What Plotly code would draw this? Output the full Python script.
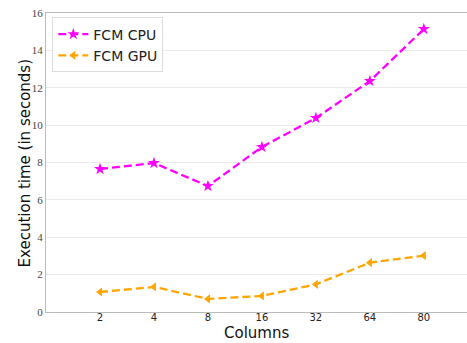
import plotly.graph_objects as go

columns = ["2", "4", "8", "16", "32", "64", "80"]
fcm_cpu = [7.65, 7.97, 6.74, 8.83, 10.38, 12.36, 15.14]
fcm_gpu = [1.07, 1.34, 0.70, 0.86, 1.48, 2.64, 3.02]

fig = go.Figure()
fig.add_trace(go.Scatter(
    x=columns, y=fcm_cpu, name="FCM CPU", mode="lines+markers",
    line=dict(color="#ff00ff", width=2.3, dash="8px,4px"),
    marker=dict(symbol="star", size=9, color="#ff00ff"),
))
fig.add_trace(go.Scatter(
    x=columns, y=fcm_gpu, name="FCM GPU", mode="lines+markers",
    line=dict(color="#ffa500", width=2.3, dash="8px,4px"),
    marker=dict(symbol="triangle-left", size=8, color="#ffa500"),
))

fig.update_layout(
    width=467, height=343,
    margin=dict(l=46, r=0, t=13, b=31),
    plot_bgcolor="white", paper_bgcolor="white",
    font=dict(family="DejaVu Sans", color="#222"),
    legend=dict(
        x=0.015, y=0.985, xanchor="left", yanchor="top",
        bgcolor="white", bordercolor="#dddddd", borderwidth=1,
        font=dict(size=14, family="DejaVu Sans", color="#222"),
        tracegroupgap=0, itemwidth=30,
    ),
    xaxis=dict(
        type="category", range=[-1, 6.8],
        showgrid=False, showline=True, linecolor="#bbbbbb", linewidth=1, mirror=True,
        ticks="", ticklabelstandoff=-4,
        tickfont=dict(size=10, family="DejaVu Sans", color="#222"),
    ),
    yaxis=dict(
        range=[0, 16], dtick=2,
        showgrid=True, gridcolor="#ebebeb", gridwidth=1,
        showline=True, linecolor="#bbbbbb", linewidth=1, zeroline=False,
        ticks="", tickfont=dict(size=11, family="Liberation Serif", color="#444"),
    ),
    annotations=[
        dict(text="Columns", xref="paper", yref="paper", x=0.5, y=-0.07,
             xanchor="center", yanchor="middle", showarrow=False,
             font=dict(size=15, family="DejaVu Sans", color="#111")),
        dict(text="Execution time (in seconds)", xref="paper", yref="paper",
             x=-0.05, y=0.5, textangle=-90, xanchor="center", yanchor="middle",
             showarrow=False, font=dict(size=15, family="DejaVu Sans", color="#111")),
    ],
)

fig.write_html("out.html")
